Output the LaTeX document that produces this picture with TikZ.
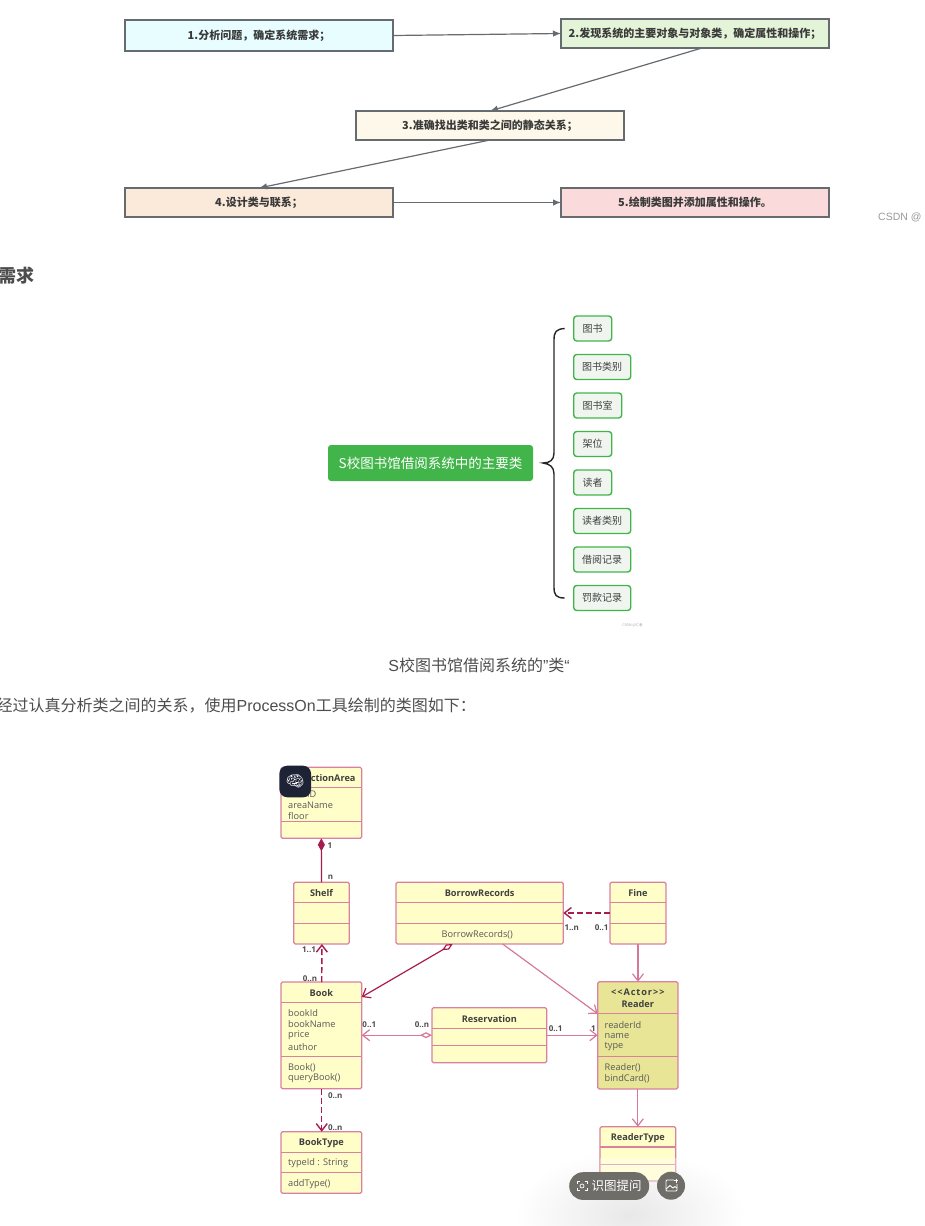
\documentclass[tikz,border=0pt]{standalone}
\usepackage{fontspec}
\usepackage{xcolor}
\usepackage{tikz}
\usetikzlibrary{arrows.meta}
\setmainfont{Noto Sans CJK SC}
\newfontfamily\umlfont{Open Sans}
\newfontfamily\arialfont{Liberation Sans}
\newfontfamily\emojifont{Noto Emoji}
\definecolor{flowline}{HTML}{666B70}
\definecolor{flowtext}{HTML}{3A3A3A}
\definecolor{stepfilla}{HTML}{E8FDFF}
\definecolor{stepfillb}{HTML}{E4F4D8}
\definecolor{stepfillc}{HTML}{FDF8E9}
\definecolor{stepfilld}{HTML}{FBE9DA}
\definecolor{stepfille}{HTML}{FADADA}
\definecolor{pagetext}{HTML}{4D4D4D}
\definecolor{mapgreen}{HTML}{42B54A}
\definecolor{mapfill}{HTML}{F0F5F0}
\definecolor{classfill}{HTML}{FFFDC8}
\definecolor{actorfill}{HTML}{E9E596}
\definecolor{classline}{HTML}{D8829F}
\definecolor{darklink}{HTML}{A81B50}
\definecolor{palelink}{HTML}{D6789B}
\definecolor{pillgrey}{HTML}{6F6D68}
\definecolor{badgedark}{HTML}{1E2235}
\newcommand{\px}[1]{\fontsize{#1}{#1}\selectfont}

\begin{document}
\begin{tikzpicture}[
  x=1pt, y=-1pt,
  flowbox/.style={rectangle, draw=flowline, line width=1.2pt, anchor=north west,
               inner sep=0pt, outer sep=0pt, text=flowtext, font=\px{11}\bfseries},
  flowlink/.style={draw=flowline, line width=1.2pt, -{Latex[length=8pt,width=6.5pt]}},
  mapkid/.style={rectangle, draw=mapgreen, line width=1.4pt, rounded corners=3pt, fill=mapfill,
               anchor=west, inner sep=0pt, outer sep=0pt, minimum height=25pt,
               text=black!75, font=\px{10}},
  pagetxt/.style={inner sep=0pt, text=pagetext, font=\px{16}},
  umlbox/.style={rectangle, draw=classline, line width=1.2pt, rounded corners=1.5pt,
               anchor=north west, inner sep=0pt, outer sep=0pt},
  umlsplit/.style={draw=classline, line width=1.1pt},
  umltitle/.style={inner sep=0pt, text=black!75, font=\umlfont\px{9.2}\bfseries},
  umlattr/.style={inner sep=0pt, anchor=west, text=black!65, font=\umlfont\px{9.2}},
  mult/.style={inner sep=0pt, text=black!70, font=\umlfont\px{8}\bfseries},
  darkarrow/.style={draw=darklink, line width=1.2pt, -{Straight Barb[length=7pt,width=11pt]}},
  palearrow/.style={draw=palelink, line width=1.2pt, -{Straight Barb[length=7pt,width=11pt]}},
  longdash/.style={line width=1.4pt, dash pattern=on 6pt off 3pt},
  hollow/.style={{Diamond[open,fill=white,length=12pt,width=6pt]}-{Straight Barb[length=7pt,width=11pt]}}]
\useasboundingbox (0,0) rectangle (924,1226);

% steps at the top
\foreach \n/\x/\y/\w/\h/\c/\t in {
    stepa/125/20/268/31/stepfilla/{1.分析问题，确定系统需求；},
    stepb/561/19/268/29/stepfillb/{2.发现系统的主要对象与对象类，确定属性和操作；},
    stepc/356/111/268/29/stepfillc/{3.准确找出类和类之间的静态关系；},
    stepd/125/188/268/29/stepfilld/{4.设计类与联系；},
    stepe/561/188/268/29/stepfille/{5.绘制类图并添加属性和操作。}}
  \node[flowbox, fill=\c, minimum width=\w pt, minimum height=\h pt] (\n) at (\x,\y) {\t};
\draw[flowlink] (stepa.east) -- (stepb.west);
\draw[flowlink] ([xshift=7pt]stepb.south) -- (stepc.north);
\draw[flowlink] (stepc.south) -- (stepd.north);
\draw[flowlink] (stepd.east) -- (stepe.west);
\node[inner sep=0pt, anchor=west, text=black!40, font=\arialfont\px{10.5}] (markone) at (878,217) {CSDN @};

% page text
\node[pagetxt, anchor=east, font=\px{18}\bfseries] (heading) at (35,276) {需求};
\node[pagetxt] (caption) at (479,665) {\arialfont S\rmfamily 校图书馆借阅系统的\arialfont ”\rmfamily 类\arialfont “};
\node[pagetxt, anchor=east] (intro) at (476,706) {经过认真分析类之间的关系，使用\arialfont ProcessOn\rmfamily 工具绘制的类图如下：};

% mind map
\node[rectangle, fill=mapgreen, rounded corners=3pt, anchor=north west, inner sep=0pt, outer sep=0pt,
      minimum width=205pt, minimum height=36pt, text=white, font=\px{13.5}] (maproot) at (328,445)
      {S校图书馆借阅系统中的主要类};
\foreach \n/\y/\w/\t in {
    mapa/328.5/38/图书, mapb/367/57/图书类别, mapc/405.5/48/图书室, mapd/444/38/架位,
    mape/482.5/38/读者, mapf/521/57/读者类别, mapg/559.5/57/借阅记录, maph/598/57/罚款记录}
  \node[mapkid, minimum width=\w pt] (\n) at (573.7,\y) {\t};
\coordinate (bracetip) at ([xshift=10pt]maproot.east);
\coordinate (bracetop) at ([xshift=-9pt]mapa.west);
\coordinate (bracebot) at ([xshift=-9pt]maph.west);
\draw[black!85, line width=1.4pt]
  (bracetop) .. controls (556,329) and (554,332) .. (554,340) -- (554,453)
  .. controls (554,460) and (550,463) .. (bracetip)
  .. controls (550,464) and (554,467) .. (554,474) -- (554,587)
  .. controls (554,595) and (556,598) .. (bracebot);
\node[inner sep=0pt, text=black!35, font=\px{3.5}] (marktwo) at (632.5,625.5) {CSDN @仁者};

% soft shadow under the buttons
\shade[inner color=black!9, outer color=white] (630,1215) ellipse (115 and 65);

% classes
\foreach \n/\x/\y/\w/\h/\p/\q/\c in {
    section/281/767.3/80.7/71/787.7/821.7/classfill,
    shelf/293.7/882.3/55.6/61.7/902.7/923.3/classfill,
    borrow/396/882.3/167.3/61.7/902.7/923.3/classfill,
    fine/610/882.3/56/61.7/902.7/923.3/classfill,
    book/281/982/80.7/106.7/1002.3/1056.3/classfill,
    reserve/432/1007.7/114.7/55/1028.3/1045.3/classfill,
    reader/597.7/981.7/80.3/107.3/1013.7/1056.7/actorfill,
    booktype/281/1131.7/80.7/61.6/1152.3/1172.7/classfill,
    readertype/600/1126.7/75.7/54.3/1147/1164.3/classfill} {
  \node[umlbox, fill=\c, minimum width=\w pt, minimum height=\h pt] (\n) at (\x,\y) {};
  \draw[umlsplit] (\n.west |- 0,\p) -- (\n.east |- 0,\p);
  \draw[umlsplit] (\n.west |- 0,\q) -- (\n.east |- 0,\q);
}
\foreach \n/\b/\y/\t in {
    shelftitle/shelf/892.7/Shelf,
    borrowtitle/borrow/893/BorrowRecords, finetitle/fine/893/Fine,
    booktitle/book/992.7/Book, reservetitle/reserve/1018.7/Reservation,
    actortitle/reader/992.7/{\addfontfeature{LetterSpace=10}<<Actor>>}, readertitle/reader/1003.7/Reader,
    typetitle/booktype/1142.7/BookType, kindtitle/readertype/1137.7/ReaderType}
  \node[umltitle] (\n) at (\b.center |- 0,\y) {\t};
\node[umltitle] (sectiontitle) at (328,777.7) {SectionArea};
\foreach \n/\x/\y/\t in {
    areaid/288/794/areaID, areaname/288/805/areaName, areafloor/288/816/floor,
    bookid/288/1013.3/bookId, bookname/288/1024.3/bookName, bookprice/288/1035.7/price,
    bookauthor/288/1046.7/author, bookmake/288/1067.3/{Book()}, bookquery/288/1078.3/{queryBook()},
    readerid/604.5/1024.7/readerId, readername/604.5/1036/name, readerkind/604.5/1047/type,
    readermake/604.5/1067.7/{Reader()}, readerbind/604.5/1078.7/{bindCard()},
    typeid/288/1163/{typeId : String}, typeadd/288/1184/{addType()}}
  \node[umlattr] (\n) at (\x,\y) {\t};
\node[inner sep=0pt, text=black!65, font=\umlfont\px{9.2}] (borrowmake) at (477.3,934.3) {BorrowRecords()};

% links
\draw[draw=darklink, line width=1.2pt, {Diamond[length=13pt,width=7pt]}-] (section.south) -- (shelf.north);
\draw[darkarrow, longdash] ([xshift=.4pt]book.north) -- ([xshift=.4pt]shelf.south);
\draw[darkarrow, hollow] ([xshift=-27pt]borrow.south) -- ([yshift=-15pt]book.north east);
\draw[palearrow] ([xshift=23pt]borrow.south) -- ([yshift=-32pt]reader.north west);
\draw[darkarrow, longdash] (fine.west |- 0,913) -- (borrow.east |- 0,913);
\draw[palearrow] (fine.south) -- (fine.south |- reader.north);
\draw[palearrow, hollow] (reserve.west) -- (book.east |- reserve.west);
\draw[palearrow] (reserve.east) -- (reader.west |- reserve.east);
\draw[palearrow] (reader.south) -- (reader.south |- readertype.north);
\draw[darkarrow, longdash] ([xshift=.4pt]book.south) -- ([xshift=.4pt]booktype.north);

\foreach \n/\x/\y/\t in {
    multa/330/845.3/1, multb/330.5/877/n, multc/309/950/{1..1}, multd/310/978.3/{0..n},
    multe/571.7/927.3/{1..n}, multf/601.7/927.3/{0..1}, multg/369.3/1025/{0..1}, multh/422/1025/{0..n},
    multi/555.7/1029/{0..1}, multj/593.3/1029/1, multk/335.3/1095.7/{0..n}, multl/335.3/1127.3/{0..n}}
  \node[mult] (\n) at (\x,\y) {\t};

% buttons over the picture
\fill[white, fill opacity=.35] (readertype.west |- 0,1158) rectangle ([shift={(1pt,-1pt)}]readertype.south east);
\node[rectangle, fill=badgedark, rounded corners=8pt, inner sep=0pt, minimum width=31.7pt,
      minimum height=31.6pt, text=white, font=\emojifont\px{15}] (brainbadge) at (295.2,781.5) {🧠};
\node[rectangle, fill=pillgrey, rounded corners=13.8pt, inner sep=0pt, anchor=north west,
      minimum width=80pt, minimum height=27.7pt] (askpill) at (569,1172) {};
\node[inner sep=0pt, text=white, font=\px{12.5}] (asktext) at (616.5,1185.8) {识图提问};
\draw[white, line width=.8pt] (577,1184) -- (577,1181.5) -- (579.5,1181.5)
  (584.5,1181.5) -- (587,1181.5) -- (587,1184)
  (587,1188) -- (587,1190.5) -- (584.5,1190.5)
  (579.5,1190.5) -- (577,1190.5) -- (577,1188);
\draw[white, line width=.7pt] (582,1186) circle (2);
\node[circle, fill=pillgrey, inner sep=0pt, minimum size=28pt] (imgbutton) at (671,1185.7) {};
\draw[white, line width=.9pt, rounded corners=1pt] (674,1180) -- (666,1180) -- (666,1191) -- (677,1191) -- (677,1184);
\draw[white, line width=.9pt] (666,1189) -- (670,1185.5) -- (673,1188) -- (675,1186.5) -- (677,1188);
\draw[white, line width=.9pt] (676,1178.5) -- (676,1182.5) (674,1180.5) -- (678,1180.5);
\end{tikzpicture}
\end{document}
